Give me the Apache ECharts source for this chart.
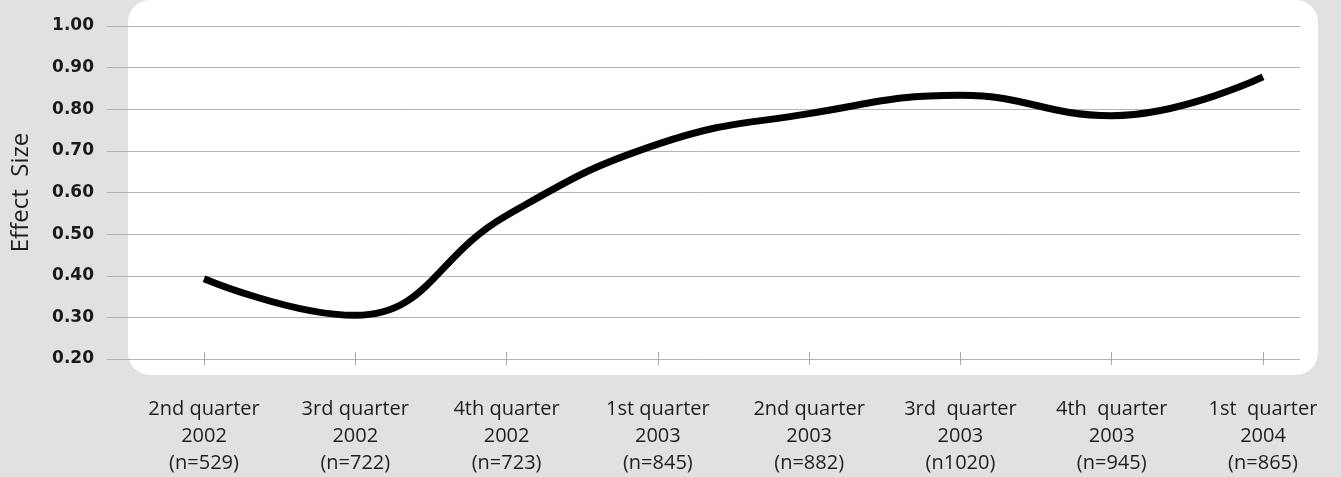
<!DOCTYPE html>
<html>
<head>
<meta charset="utf-8">
<script src="https://cdn.jsdelivr.net/npm/echarts@6/dist/echarts.min.js"></script>
<style>
html,body{margin:0;padding:0;background:#e1e1e1;}
#chart{width:1341px;height:477px;}
</style>
</head>
<body>
<div id="chart"></div>
<script>
var categories = [
  "2nd quarter\n2002\n(n=529)",
  "3rd quarter\n2002\n(n=722)",
  "4th quarter\n2002\n(n=723)",
  "1st quarter\n2003\n(n=845)",
  "2nd quarter\n2003\n(n=882)",
  "3rd  quarter\n2003\n(n1020)",
  "4th  quarter\n2003\n(n=945)",
  "1st  quarter\n2004\n(n=865)"
];
var effectSize = [0.38, 0.29, 0.535, 0.71, 0.785, 0.83, 0.78, 0.875];
var yMin = 0.2, yMax = 1.0, yStep = 0.1;

var chart = echarts.init(document.getElementById('chart'));
chart.setOption({
  backgroundColor: '#e1e1e1',
  animation: false,
  graphic: [{
    type: 'rect',
    z: -100,
    shape: {x: 128, y: 0, width: 1190, height: 375, r: 22},
    style: {fill: '#ffffff'}
  }],
  grid: [
    {left: 204, right: 78, top: 26, bottom: 118},
    {left: 107, right: 41, top: 26, bottom: 118}
  ],
  xAxis: [
    {
      type: 'category', gridIndex: 0, data: categories, boundaryGap: false,
      axisLine: {show: false},
      axisTick: {show: true, alignWithLabel: true, length: 13, lineStyle: {color: '#a8a8a8', width: 1}},
      axisLabel: {
        margin: 44, color: '#1e1e1e', fontFamily: 'Open Sans', fontSize: 20, lineHeight: 27,
        interval: 0
      }
    },
    {type: 'value', gridIndex: 1, show: false, min: 0, max: 1}
  ],
  yAxis: [
    {type: 'value', gridIndex: 0, min: yMin, max: yMax, interval: yStep, show: false},
    {
      type: 'value', gridIndex: 1, min: yMin, max: yMax, interval: yStep,
      name: 'Effect  Size', nameLocation: 'middle', nameGap: 74,
      nameTextStyle: {fontFamily: 'Open Sans', fontSize: 24, color: '#1e1e1e', fontWeight: 500},
      axisLine: {show: false}, axisTick: {show: false},
      splitLine: {lineStyle: {color: '#b4b4b4', width: 1}},
      axisLabel: {
        margin: 13, color: '#1a1a1a', fontFamily: 'DejaVu Sans', fontWeight: 'bold', fontSize: 17,
        formatter: function (v) { return v.toFixed(2); }
      }
    }
  ],
  series: [{
    type: 'line', xAxisIndex: 0, yAxisIndex: 0,
    data: effectSize, smooth: 0.45, symbol: 'none',
    lineStyle: {color: '#000000', width: 7, cap: 'butt'}
  }]
});
</script>
</body>
</html>
